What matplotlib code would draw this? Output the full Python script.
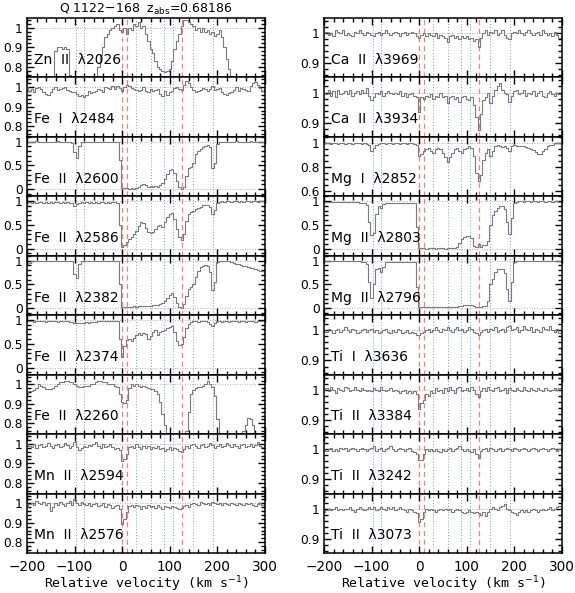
import matplotlib
matplotlib.use("Agg")
import matplotlib.pyplot as plt
import numpy as np
from matplotlib.ticker import FixedLocator, MultipleLocator, FuncFormatter

# ---------------- data ----------------
velocity = list(range(-200, 305, 5))  # km/s sampling grid

title_text = "Q 1122\u2212168  z$_{\\rm abs}$=0.68186"
xlabel_text = "Relative velocity (km s$^{-1}$)"

left_labels = ["Zn  II  \u03bb2026", "Fe  I  \u03bb2484", "Fe  II  \u03bb2600", "Fe  II  \u03bb2586",
               "Fe  II  \u03bb2382", "Fe  II  \u03bb2374", "Fe  II  \u03bb2260", "Mn  II  \u03bb2594",
               "Mn  II  \u03bb2576"]
right_labels = ["Ca  II  \u03bb3969", "Ca  II  \u03bb3934", "Mg  I  \u03bb2852", "Mg  II  \u03bb2803",
                "Mg  II  \u03bb2796", "Ti  I  \u03bb3636", "Ti  II  \u03bb3384", "Ti  II  \u03bb3242",
                "Ti  II  \u03bb3073"]

red_lines = [0, 11, 126]
blue_lines = [-98, -80, 30, 61, 88, 107, 149, 190]

zn2026 = [0.70,0.70,0.70,0.70,0.70,0.70,0.70,0.70,0.70,0.70,
          0.70,0.72,0.88,0.90,0.90,0.89,0.90,0.89,0.76,0.70,
          0.70,0.70,0.70,0.70,0.70,0.70,0.70,0.70,0.70,0.74,
          0.80,0.86,0.90,0.95,0.97,0.99,1.00,1.01,1.02,0.99,
          0.98,1.00,0.97,1.00,0.99,1.02,1.01,1.03,1.00,1.01,
          0.97,0.93,0.89,0.87,0.83,0.80,0.79,0.78,0.775,0.78,
          0.79,0.83,0.89,0.93,0.97,1.01,1.04,1.04,1.03,1.02,
          1.01,0.99,1.00,0.98,1.00,0.98,0.99,0.97,0.98,0.96,
          0.97,0.99,0.95,0.90,0.84,0.79,0.75,0.70,0.70,0.70,
          0.70,0.70,0.70,0.70,0.70,0.70,0.70,0.70,0.70,0.70,
          0.70]
fe2484 = [1.00,0.98,0.99,0.975,0.995,1.00,0.99,0.975,0.965,0.96,
          0.975,0.99,1.00,0.985,0.99,0.995,1.00,0.985,0.98,0.975,
          0.975,0.965,0.955,0.96,0.95,0.96,0.98,0.97,0.975,0.98,
          0.99,0.985,0.975,1.00,0.995,0.99,1.005,0.99,1.005,0.995,
          0.98,1.00,1.01,1.005,0.995,0.99,0.985,0.98,0.985,1.00,
          0.98,0.975,0.99,0.98,0.985,0.99,0.965,0.955,0.98,0.96,
          0.975,0.98,0.995,1.00,0.99,0.985,1.01,1.03,1.02,1.00,
          0.985,0.975,0.98,0.985,0.995,0.99,0.98,0.99,1.005,0.985,
          0.99,0.995,0.975,0.965,0.96,0.97,0.975,0.985,1.00,0.98,
          0.995,0.99,0.985,0.98,1.005,1.02,1.025,1.01,0.995,0.98,
          0.99]
fe2600 = [1.00,1.00,0.99,1.00,1.01,1.00,1.00,0.99,1.00,1.00,
          1.00,0.99,1.00,1.01,1.00,1.00,0.99,1.00,1.00,0.98,
          0.78,0.66,0.90,0.99,1.00,0.99,1.00,1.00,0.99,1.00,
          1.00,0.99,1.00,1.00,0.99,1.00,1.00,0.99,1.00,0.62,
          0.03,0.02,0.03,0.01,0.02,0.01,0.03,0.05,0.08,0.10,
          0.08,0.05,0.07,0.04,0.06,0.05,0.09,0.13,0.22,0.33,
          0.40,0.42,0.35,0.18,0.04,0.01,0.05,0.28,0.45,0.47,
          0.55,0.75,0.80,0.84,0.88,0.91,0.92,0.88,0.45,0.55,
          0.95,1.00,0.99,1.00,1.00,0.99,1.00,1.00,1.01,1.00,
          1.00,0.99,1.00,1.00,1.01,1.00,0.99,1.00,1.00,0.99,
          1.00]
fe2586 = [0.97,0.98,0.97,0.98,0.97,0.98,0.98,0.97,0.98,0.97,
          0.98,0.97,0.98,0.98,0.97,0.98,0.97,0.98,0.97,0.97,
          0.90,0.93,0.97,0.98,0.97,0.98,0.97,0.98,0.97,0.98,
          0.97,0.98,0.98,0.97,0.98,0.97,0.98,0.98,0.97,0.50,
          0.04,0.08,0.14,0.20,0.25,0.30,0.38,0.48,0.56,0.54,
          0.44,0.36,0.32,0.36,0.42,0.47,0.50,0.45,0.55,0.66,
          0.72,0.74,0.62,0.42,0.24,0.19,0.30,0.58,0.72,0.77,
          0.80,0.84,0.86,0.88,0.91,0.92,0.91,0.88,0.72,0.82,
          0.97,0.99,1.00,0.99,1.00,1.00,0.99,1.00,1.00,0.99,
          1.00,0.99,1.00,1.00,0.99,1.00,1.00,0.99,1.00,1.00,
          0.99]
fe2382 = [0.92,0.95,0.98,0.99,1.00,0.99,1.00,1.00,0.99,1.00,
          1.00,0.99,1.00,1.00,1.00,0.99,1.00,1.00,0.99,0.98,
          0.72,0.63,0.93,0.99,1.00,1.00,0.99,1.00,1.00,0.99,
          1.00,1.00,0.99,1.00,1.00,0.99,1.00,1.00,1.00,0.50,
          0.02,0.02,0.03,0.02,0.03,0.04,0.03,0.04,0.05,0.04,
          0.05,0.04,0.05,0.06,0.07,0.06,0.09,0.11,0.14,0.22,
          0.28,0.32,0.24,0.10,0.02,0.01,0.08,0.25,0.40,0.45,
          0.50,0.66,0.78,0.86,0.89,0.90,0.88,0.75,0.38,0.55,
          0.96,0.98,0.99,1.00,0.99,0.98,0.97,0.95,0.93,0.92,
          0.91,0.89,0.88,0.87,0.85,0.84,0.82,0.81,0.79,0.77,
          0.75]
fe2374 = [0.97,0.98,0.97,0.96,0.97,0.98,0.97,0.97,0.96,0.97,
          0.98,0.97,0.97,0.96,0.97,0.98,0.97,0.97,0.96,0.96,
          0.94,0.94,0.93,0.94,0.94,0.95,0.94,0.95,0.96,0.96,
          0.97,0.97,0.98,0.97,0.97,0.98,0.98,0.97,0.97,0.60,
          0.22,0.45,0.57,0.60,0.56,0.62,0.68,0.72,0.68,0.73,
          0.70,0.61,0.66,0.74,0.78,0.68,0.74,0.76,0.78,0.83,
          0.86,0.88,0.74,0.55,0.48,0.50,0.65,0.84,0.92,0.95,
          0.97,0.97,0.96,0.97,0.97,0.97,0.96,0.91,0.87,0.94,
          0.97,0.97,0.96,0.97,0.97,0.96,0.97,0.97,0.97,0.96,
          0.97,0.97,0.96,0.97,0.97,0.97,0.96,0.97,0.97,0.97,
          0.97]
fe2260 = [0.95,0.965,0.965,0.97,0.98,1.00,0.99,0.985,0.975,0.975,
          0.975,0.98,0.99,1.00,1.01,1.01,1.02,1.02,1.01,1.01,
          1.00,0.99,0.985,0.985,0.99,0.99,0.99,1.00,1.00,1.01,
          1.02,1.02,1.01,1.01,1.00,1.00,1.00,0.99,0.985,0.95,
          0.91,0.905,0.92,0.98,1.00,0.99,1.00,0.99,0.985,0.99,
          0.985,0.98,0.975,0.975,0.965,0.95,0.91,0.85,0.79,0.75,
          0.72,0.72,0.72,0.72,0.72,0.72,0.72,0.76,0.86,0.95,
          0.97,0.98,0.985,0.985,0.99,1.00,1.02,1.00,0.985,0.94,
          0.82,0.74,0.72,0.72,0.72,0.72,0.72,0.72,0.72,0.72,
          0.72,0.76,0.79,0.83,0.82,0.79,0.75,0.72,0.72,0.72,
          0.72]
mn2594 = [1.00,0.99,0.985,1.00,0.98,0.995,1.00,0.985,0.99,1.005,
          0.99,0.98,0.995,1.00,0.985,0.99,1.005,0.995,0.98,0.99,
          1.01,0.985,0.97,0.98,0.99,0.985,0.995,0.99,1.00,1.01,
          0.99,0.98,1.00,0.985,0.99,1.00,0.985,0.975,0.98,0.97,
          0.91,0.92,0.95,0.985,0.99,0.98,1.00,0.985,0.975,0.99,
          0.98,0.99,0.975,0.985,0.98,0.99,0.975,0.98,0.965,0.975,
          0.985,0.97,0.98,0.975,0.965,0.96,0.975,0.99,0.98,0.995,
          1.00,0.99,0.98,0.995,1.00,0.985,0.99,1.005,0.995,0.98,
          0.99,1.00,0.985,0.99,1.005,0.995,0.985,1.00,0.99,0.98,
          0.995,1.00,0.985,0.99,1.00,0.985,0.995,1.01,0.99,0.985,
          1.00]
mn2576 = [0.98,0.995,1.00,0.99,1.01,1.00,0.995,1.005,0.99,1.00,
          0.96,0.98,1.00,0.99,1.005,0.995,0.985,1.00,1.01,0.99,
          1.02,1.00,0.99,1.005,0.995,0.99,1.00,0.985,0.995,1.00,
          0.985,0.99,1.00,0.98,0.995,0.99,0.975,0.985,0.99,0.97,
          0.895,0.92,0.955,0.985,0.99,0.98,0.99,0.985,0.97,0.985,
          0.975,0.99,0.98,0.985,0.975,0.99,0.98,0.97,0.985,0.98,
          0.975,0.985,0.98,0.975,0.97,0.975,0.985,0.99,0.98,0.995,
          1.00,0.995,0.99,1.005,1.00,0.995,1.00,0.99,1.005,1.00,
          0.995,1.00,0.99,1.00,0.995,0.99,1.00,0.995,0.99,1.00,
          0.995,0.99,1.00,0.995,1.00,0.99,0.985,0.995,1.00,0.99,
          0.995]
ca3969 = [1.00,1.005,0.995,1.00,0.99,1.01,1.005,1.00,1.01,0.995,
          1.00,0.995,0.99,1.005,1.00,1.01,1.00,0.995,1.005,1.00,
          0.995,0.99,1.00,1.005,0.995,1.00,1.01,1.00,0.995,1.00,
          1.005,1.00,0.99,1.00,1.005,0.995,1.00,1.005,1.00,0.99,
          0.985,0.995,1.00,0.99,1.00,0.995,0.99,1.00,0.985,0.995,
          0.99,0.985,0.97,0.99,0.995,0.985,0.99,0.98,0.99,0.985,
          0.99,0.98,0.985,0.975,0.98,0.955,0.985,1.00,1.01,0.995,
          1.005,1.00,1.01,0.995,1.00,1.01,0.995,0.985,0.98,1.00,
          1.005,1.00,1.01,1.00,0.995,1.005,1.01,1.00,0.995,1.00,
          1.005,0.995,1.01,1.00,0.995,1.00,0.99,1.005,0.995,0.985,
          0.99]
ca3934 = [1.00,0.995,1.01,0.99,1.005,0.985,1.01,0.995,1.00,1.005,
          0.995,1.01,0.99,1.00,1.005,0.995,1.01,1.00,1.015,0.99,
          0.975,0.985,1.00,0.995,1.005,0.99,1.00,1.005,1.00,0.995,
          1.00,0.995,1.005,0.99,1.00,0.985,0.995,1.00,0.99,0.985,
          0.935,0.985,0.98,0.99,0.985,0.995,0.98,0.99,0.985,1.00,
          0.985,0.99,0.965,0.985,0.99,0.98,0.985,0.97,0.985,0.99,
          0.98,0.975,0.985,0.96,0.92,0.875,0.93,0.975,0.985,1.00,
          0.965,0.99,1.01,1.02,1.03,1.01,1.00,0.995,0.97,0.99,
          1.005,1.01,0.995,1.00,1.01,0.99,1.00,0.995,1.005,0.99,
          1.00,1.005,0.99,0.985,1.00,1.005,0.995,0.99,1.00,0.995,
          0.99]
mg2852 = [1.00,0.995,1.00,0.99,0.995,1.00,0.99,0.995,1.00,0.99,
          0.995,1.00,0.99,0.995,1.00,0.995,0.99,0.995,0.99,0.985,
          0.93,0.96,0.985,0.99,1.00,0.995,0.99,1.00,0.995,0.99,
          1.00,0.995,0.99,1.00,0.995,0.99,1.00,0.995,0.99,0.985,
          0.89,0.905,0.93,0.945,0.96,0.935,0.92,0.945,0.96,0.95,
          0.92,0.88,0.84,0.88,0.915,0.945,0.96,0.93,0.92,0.945,
          0.96,0.97,0.96,0.89,0.75,0.685,0.73,0.86,0.92,0.945,
          0.89,0.935,0.97,0.985,0.97,0.965,0.97,0.96,0.93,0.97,
          0.985,0.975,0.97,0.975,0.97,0.965,0.96,0.95,0.94,0.925,
          0.905,0.91,0.93,0.95,0.97,0.98,0.985,0.995,1.00,0.995,
          1.00]
mg2803 = [0.98,0.99,0.98,0.99,0.99,0.98,0.99,0.99,0.98,0.99,
          0.99,0.98,0.99,0.98,0.98,0.97,0.97,0.96,0.92,0.55,
          0.28,0.33,0.72,0.90,0.86,0.93,0.96,0.97,0.96,0.97,
          0.97,0.96,0.97,0.97,0.96,0.97,0.97,0.96,0.95,0.45,
          0.02,0.01,0.02,0.00,0.01,0.02,0.01,0.00,0.01,0.02,
          0.01,0.00,0.02,0.01,0.02,0.01,0.03,0.12,0.21,0.25,
          0.27,0.26,0.22,0.06,0.04,0.10,0.04,0.07,0.08,0.17,
          0.50,0.70,0.80,0.86,0.89,0.89,0.84,0.55,0.30,0.65,
          0.95,0.99,1.00,1.00,0.99,1.00,1.00,0.99,1.00,1.00,
          0.99,1.00,1.00,0.99,1.00,1.00,0.99,1.00,1.00,0.99,
          1.00]
mg2796 = [0.98,0.99,0.98,0.99,0.98,0.99,0.99,0.98,0.99,0.99,
          0.98,0.99,0.98,0.98,0.99,0.98,0.97,0.97,0.93,0.55,
          0.22,0.50,0.83,0.85,0.76,0.86,0.96,0.97,0.97,0.97,
          0.97,0.97,0.96,0.97,0.97,0.97,0.96,0.97,0.96,0.45,
          0.02,0.02,0.03,0.02,0.02,0.03,0.02,0.02,0.03,0.02,
          0.02,0.03,0.02,0.02,0.03,0.02,0.03,0.04,0.05,0.07,
          0.07,0.07,0.07,0.05,0.03,0.03,0.03,0.04,0.05,0.15,
          0.50,0.62,0.76,0.82,0.83,0.82,0.73,0.40,0.15,0.55,
          0.96,0.99,0.99,1.00,0.99,0.99,1.00,0.99,0.99,1.00,
          0.99,1.00,0.99,0.99,1.00,0.99,0.99,1.00,0.99,0.99,
          0.99]
ti3636 = [1.00,0.995,1.005,1.00,0.99,1.00,1.005,0.995,1.00,1.01,
          1.00,0.995,1.005,1.00,0.99,0.995,1.00,1.005,0.995,1.00,
          1.005,0.995,1.00,0.99,0.995,1.00,1.005,0.995,0.99,1.00,
          0.995,1.005,1.00,0.99,0.995,1.00,0.99,0.995,0.99,0.985,
          0.985,0.99,0.995,1.00,1.005,0.995,1.00,1.01,1.00,0.995,
          1.005,1.00,1.01,1.00,0.995,1.005,1.01,1.00,1.005,0.995,
          1.00,1.01,1.005,0.995,0.99,0.985,0.995,1.00,1.005,0.995,
          1.005,1.00,1.01,0.995,1.00,1.005,0.995,1.01,1.015,1.00,
          1.005,1.01,0.995,1.00,1.015,1.005,1.00,1.01,0.995,1.005,
          1.00,0.995,1.01,1.005,1.00,1.015,1.00,0.995,1.005,0.99,
          1.00]
ti3384 = [1.00,1.005,0.995,1.01,1.00,0.99,1.005,1.00,0.995,1.01,
          1.005,0.995,1.00,1.01,1.00,0.995,1.005,1.00,0.995,1.00,
          0.995,1.005,1.00,0.995,1.01,1.00,0.995,1.00,1.005,0.995,
          1.00,0.995,0.99,0.995,1.00,0.99,0.995,0.99,0.995,0.985,
          0.935,0.955,0.965,0.985,0.98,0.995,0.99,1.005,0.995,1.00,
          0.99,1.005,0.995,1.01,1.00,0.99,1.005,1.01,0.995,1.00,
          1.005,0.995,1.01,1.00,0.985,0.975,0.995,1.005,0.995,1.01,
          1.00,0.995,1.005,1.01,0.995,1.00,1.005,0.99,1.005,1.00,
          0.995,1.005,1.00,0.995,1.01,1.00,0.995,1.005,1.00,0.995,
          1.005,1.00,0.995,1.005,1.00,0.995,1.00,1.005,1.00,1.005,
          1.00]
ti3242 = [1.00,0.995,1.00,1.005,0.995,1.00,0.995,1.005,1.00,1.005,
          0.995,1.00,1.005,1.00,0.995,1.00,1.005,1.00,0.995,1.00,
          1.005,1.01,0.995,1.00,1.005,0.995,1.00,1.005,1.01,1.00,
          0.995,1.00,1.005,1.00,0.995,1.00,1.005,0.995,0.99,0.985,
          0.965,0.965,0.985,1.00,0.995,1.00,0.995,1.00,0.995,0.99,
          1.00,0.995,1.00,1.005,0.995,1.00,1.005,1.01,1.00,0.995,
          1.00,0.995,0.99,1.00,0.985,0.97,0.995,1.00,1.005,0.995,
          1.005,1.00,0.995,1.00,1.005,0.995,1.00,1.005,1.00,0.995,
          1.005,1.00,0.995,1.00,1.005,1.00,0.995,1.00,1.005,1.00,
          0.995,1.00,1.005,1.00,0.995,1.00,1.005,1.00,0.995,1.00,
          0.995]
ti3073 = [0.99,0.995,1.00,0.995,1.00,1.005,0.995,1.00,0.995,1.00,
          1.00,1.005,0.995,0.99,1.00,1.005,1.00,0.995,1.00,1.005,
          1.00,1.005,0.995,1.00,1.005,1.00,0.995,1.005,1.00,1.005,
          0.995,1.00,1.005,1.00,0.995,0.99,1.00,0.995,0.99,0.985,
          0.955,0.965,0.99,1.00,0.995,1.00,0.995,0.99,0.995,1.00,
          0.995,1.00,0.995,1.00,0.99,0.995,1.00,0.995,0.99,0.985,
          0.99,0.995,0.99,0.985,0.99,0.985,0.98,0.99,0.975,0.99,
          1.00,1.005,1.00,0.995,1.005,1.01,1.015,1.00,0.995,0.99,
          0.985,0.98,0.99,0.995,0.99,0.995,0.99,0.995,1.00,0.995,
          0.99,0.995,1.00,0.995,1.00,1.005,0.995,1.00,1.005,1.01,
          1.005]

left_flux = [zn2026, fe2484, fe2600, fe2586, fe2382, fe2374, fe2260, mn2594, mn2576]
right_flux = [ca3969, ca3934, mg2852, mg2803, mg2796, ti3636, ti3384, ti3242, ti3073]

# panel y-range type: 'w' weak, 's' strong/saturated, 'c' Ca/Ti, 'm' Mg I
left_kind = ['w', 'w', 's', 's', 's', 's', 'w', 'w', 'w']
right_kind = ['c', 'c', 'm', 's', 's', 'c', 'c', 'c', 'c']

kinds = {
    'w': dict(ylim=(0.745, 1.05), major=[0.8, 0.9, 1.0], minor=0.02, zero=False),
    's': dict(ylim=(-0.15, 1.10), major=[0.0, 0.5, 1.0], minor=0.1, zero=True),
    'c': dict(ylim=(0.853, 1.05), major=[0.9, 1.0], minor=0.02, zero=False),
    'm': dict(ylim=(0.555, 1.05), major=[0.6, 0.8, 1.0], minor=0.05, zero=False),
}

# ---------------- figure ----------------
plt.rcParams['font.family'] = ['DejaVu Sans']
W, H = 575, 593
fig = plt.figure(figsize=(W / 100, H / 100), dpi=100)

top_px, bot_px = 18, 553
panel_h = (bot_px - top_px) / 9
cols = [(27, 265), (324, 562)]

spec_color = '#7a7a7a'
red_c = '#ff7b7b'
blue_c = '#8a8aff'


def fmt(v, pos):
    return '%g' % round(v, 3)


for c, (labels, fluxes, kindlist) in enumerate([(left_labels, left_flux, left_kind),
                                                 (right_labels, right_flux, right_kind)]):
    x0, x1 = cols[c]
    for i in range(9):
        k = kinds[kindlist[i]]
        ytop = top_px + i * panel_h
        ax = fig.add_axes([x0 / W, 1 - (ytop + panel_h) / H, (x1 - x0) / W, panel_h / H])
        ax.set_xlim(-200, 300)
        ax.set_ylim(*k['ylim'])
        for v in blue_lines:
            ax.axvline(v, color=blue_c, lw=0.7, ls=(0, (1, 2)), zorder=1)
        for v in red_lines:
            ax.axvline(v, color=red_c, lw=0.9, ls=(0, (4, 3)), zorder=1)
        ax.axhline(1.0, color='#9a9a9a', lw=0.6, ls=(0, (1, 2)), zorder=1)
        if k['zero']:
            ax.axhline(0.0, color='#9a9a9a', lw=0.6, ls=(0, (1, 2)), zorder=1)
        ax.step(velocity, fluxes[i], where='mid', color=spec_color, lw=0.8, zorder=2)

        ax.xaxis.set_major_locator(MultipleLocator(100))
        ax.xaxis.set_minor_locator(MultipleLocator(20))
        ax.yaxis.set_major_locator(FixedLocator(k['major']))
        ax.yaxis.set_minor_locator(MultipleLocator(k['minor']))
        ax.yaxis.set_major_formatter(FuncFormatter(fmt))
        ax.tick_params(which='both', direction='in', top=True, right=True, width=1.0)
        ax.tick_params(which='major', length=5.2)
        ax.tick_params(which='minor', length=2.7)
        ax.tick_params(axis='y', labelsize=8.8, pad=3)
        ax.tick_params(axis='x', labelsize=9.8, pad=5)
        for sp in ax.spines.values():
            sp.set_linewidth(1.1)
        if i < 8:
            ax.tick_params(axis='x', labelbottom=False)
        else:
            ax.text(0.5, -(584 - 553) / panel_h, xlabel_text, transform=ax.transAxes,
                    ha='center', va='center', fontsize=9.5, family='DejaVu Sans Mono')
        ax.text(0.028, 0.23, labels[i], transform=ax.transAxes, fontsize=10,
                ha='left', va='baseline', zorder=3)

fig.text((27 + 265) / 2 / W, 1 - 9 / H, title_text, ha='center', va='center', fontsize=9)

fig.savefig('out.png', dpi=100)
